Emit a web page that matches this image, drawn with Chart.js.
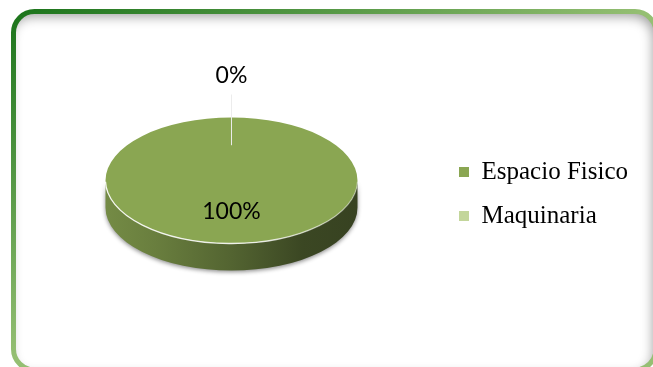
<!DOCTYPE html>
<html>
<head>
<meta charset="utf-8">
<script src="https://cdn.jsdelivr.net/npm/chart.js@4/dist/chart.umd.min.js"></script>
<style>
  html, body { margin: 0; padding: 0; background: #fff; }
  canvas { display: block; }
</style>
</head>
<body>
<canvas id="chart" width="653" height="367"></canvas>
<script>
// Share of the two categories (percent)
const categories = ['Espacio Fisico', 'Maquinaria'];
const values = [100, 0];

// Styling
const faceColors = ['#8aa652', '#c3d69b'];
const TILT = 0.5;     // vertical squash of the pie's top face
const DEPTH = 27;     // thickness of the pie wall in px

function shade(hex, f) {
  const n = parseInt(hex.slice(1), 16);
  const r = (n >> 16) & 255, g = (n >> 8) & 255, b = n & 255;
  return `rgb(${Math.round(r * f)},${Math.round(g * f)},${Math.round(b * f)})`;
}

function roundRectPath(ctx, x0, y0, x1, y1, r) {
  ctx.moveTo(x0 + r, y0);
  ctx.arcTo(x1, y0, x1, y1, r);
  ctx.arcTo(x1, y1, x0, y1, r);
  ctx.arcTo(x0, y1, x0, y0, r);
  ctx.arcTo(x0, y0, x1, y0, r);
  ctx.closePath();
}

// Rounded green frame with a soft inner shadow along the top and right
const framePlugin = {
  id: 'frame',
  beforeDraw(chart) {
    const ctx = chart.ctx;
    const W = chart.width, H = chart.height;
    const L = 13.5, T = 11.5, R = W + 3, B = H + 3, rad = 21;
    ctx.save();
    ctx.fillStyle = '#ffffff';
    ctx.fillRect(0, 0, W, H);

    ctx.save();
    ctx.beginPath();
    roundRectPath(ctx, L, T, R, B, rad);
    ctx.clip();
    ctx.beginPath();
    ctx.rect(-200, -200, W + 400, H + 400);
    roundRectPath(ctx, L, T, R, B, rad);
    ctx.shadowColor = 'rgba(0,0,0,0.38)';
    ctx.shadowBlur = 12;
    ctx.shadowOffsetX = -3;
    ctx.shadowOffsetY = 5;
    ctx.fillStyle = '#ffffff';
    ctx.fill('evenodd');
    ctx.restore();

    const g = ctx.createLinearGradient(11, 9, 158, 278);
    g.addColorStop(0, '#1a731a');
    g.addColorStop(0.45, '#4f9441');
    g.addColorStop(1, '#95bf73');
    ctx.beginPath();
    roundRectPath(ctx, L, T, R, B, rad);
    ctx.lineWidth = 5;
    ctx.strokeStyle = g;
    ctx.stroke();
    ctx.restore();
  }
};

function pieGeometry(chart) {
  const meta = chart.getDatasetMeta(0);
  const p = meta.data[0].getProps(['x', 'y', 'outerRadius'], true);
  return { meta, cx: p.x, cy: p.y, r: p.outerRadius, fy: p.y - DEPTH / 2, ry: p.outerRadius * TILT };
}

// Extruded wall under the face, squashed face, rim highlight and value labels
const pie3dPlugin = {
  id: 'pie3d',
  beforeDatasetsDraw(chart) {
    const ctx = chart.ctx;
    const { meta, cx, cy, r, fy, ry } = pieGeometry(chart);

    meta.data.forEach((arc, i) => {
      const { startAngle: s, endAngle: e } = arc.getProps(['startAngle', 'endAngle'], true);
      if (e - s <= 0) return;
      const base = faceColors[i % faceColors.length];
      for (let k = -1; k <= 1; k++) {
        const lo = Math.max(s, 2 * Math.PI * k);
        const hi = Math.min(e, 2 * Math.PI * k + Math.PI);
        if (hi <= lo) continue;
        ctx.save();
        const g = ctx.createLinearGradient(cx - r, 0, cx + r, 0);
        g.addColorStop(0, shade(base, 0.84));
        g.addColorStop(0.2, shade(base, 0.76));
        g.addColorStop(0.5, shade(base, 0.6));
        g.addColorStop(0.78, shade(base, 0.43));
        g.addColorStop(1, shade(base, 0.4));
        ctx.beginPath();
        ctx.ellipse(cx, fy, r, ry, 0, lo, hi);
        ctx.ellipse(cx, fy + DEPTH, r, ry, 0, hi, lo, true);
        ctx.closePath();
        ctx.shadowColor = 'rgba(0,0,0,0.45)';
        ctx.shadowBlur = 4;
        ctx.shadowOffsetY = 1.5;
        ctx.fillStyle = g;
        ctx.fill();
        ctx.restore();
      }
    });

    // the face itself is drawn by Chart.js under this transform
    ctx.save();
    ctx.translate(cx, fy);
    ctx.scale(1, TILT);
    ctx.translate(-cx, -cy);
  },
  afterDatasetsDraw(chart) {
    const ctx = chart.ctx;
    ctx.restore();
    const { meta, cx, r, fy, ry } = pieGeometry(chart);

    // light bevel along the front rim
    ctx.save();
    const hg = ctx.createLinearGradient(cx - r, 0, cx + r, 0);
    hg.addColorStop(0, 'rgba(255,255,255,0.9)');
    hg.addColorStop(0.6, 'rgba(255,255,255,0.85)');
    hg.addColorStop(1, 'rgba(255,255,255,0.35)');
    ctx.beginPath();
    ctx.ellipse(cx, fy, r, ry, 0, 0.02, Math.PI - 0.02);
    ctx.strokeStyle = hg;
    ctx.lineWidth = 1.3;
    ctx.stroke();
    ctx.restore();

    const total = values.reduce((a, b) => a + b, 0);
    ctx.save();
    ctx.font = '23px Lato, Carlito, "Open Sans", sans-serif';
    ctx.fillStyle = '#000000';
    ctx.textAlign = 'center';
    ctx.textBaseline = 'middle';
    meta.data.forEach((arc, i) => {
      const { startAngle: s, endAngle: e } = arc.getProps(['startAngle', 'endAngle'], true);
      const mid = (s + e) / 2;
      const c = Math.cos(mid), sn = Math.sin(mid);
      const share = values[i] / total;
      const txt = Math.round(share * 100) + '%';
      if (share > 0.05) {
        ctx.fillText(txt, cx + 0.5 * r * c, fy + 0.5 * ry * sn);
      } else {
        const x1 = cx + 0.56 * r * c, y1 = fy + 0.56 * ry * sn;
        const x2 = cx + r * c + 23 * c, y2 = fy + ry * sn + 23 * sn;
        ctx.beginPath();
        ctx.moveTo(x1, y1);
        ctx.lineTo(x2, y2);
        ctx.strokeStyle = '#ececec';
        ctx.lineWidth = 1;
        ctx.stroke();
        ctx.fillText(txt, x2 + 19 * c, y2 + 19 * sn);
      }
    });
    ctx.restore();
  }
};

new Chart(document.getElementById('chart'), {
  type: 'pie',
  data: {
    labels: categories,
    datasets: [{
      data: values,
      backgroundColor: faceColors,
      borderWidth: 0,
      hoverOffset: 0
    }]
  },
  options: {
    responsive: false,
    animation: false,
    events: [],
    layout: { padding: { left: 23, right: 15, top: 68, bottom: 47 } },
    plugins: {
      legend: {
        position: 'right',
        align: 'center',
        labels: {
          boxWidth: 10,
          boxHeight: 10,
          padding: 19,
          color: '#000000',
          font: { family: '"Liberation Serif", "Times New Roman", serif', size: 25 }
        }
      },
      tooltip: { enabled: false }
    }
  },
  plugins: [framePlugin, pie3dPlugin]
});
</script>
</body>
</html>
